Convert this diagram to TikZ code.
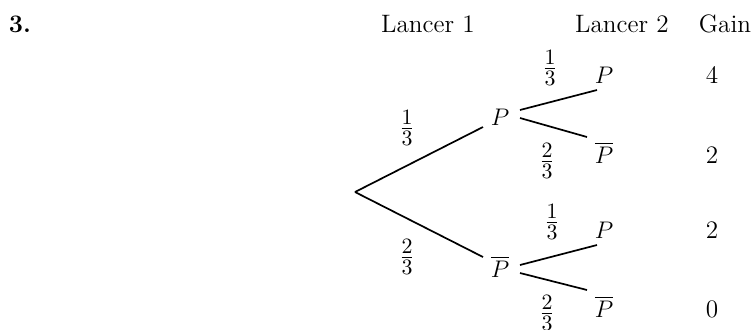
\documentclass[tikz,border=0pt]{standalone}
\begin{document}
\begin{tikzpicture}[x=0.5pt,y=-0.5pt,
  lbl/.style={font=\fontsize{12.6}{15}\selectfont,inner sep=0pt,anchor=base},
  frc/.style={font=\fontsize{15}{18}\selectfont,inner sep=0pt},
  br/.style={line width=0.85pt}]
\useasboundingbox (0,0) rectangle (751,329);
% headers
\node[lbl] (num) at (20,32) {\textbf{3.}};
\node[lbl] (h1) at (428,32) {Lancer 1};
\node[lbl] (h2) at (622,32) {Lancer 2};
\node[lbl] (h3) at (725,32) {Gain};
% tree nodes
\coordinate (R) at (355,192);
\node[lbl] (A) at (500,125) {$P$};
\node[lbl] (B) at (500,277) {$\overline{P}$};
\node[lbl] (A1) at (604,83) {$P$};
\node[lbl] (A2) at (604,163) {$\overline{P}$};
\node[lbl] (B1) at (604,238) {$P$};
\node[lbl] (B2) at (604,317) {$\overline{P}$};
% gains
\node[lbl] (g1) at (712,83) {4};
\node[lbl] (g2) at (712,163) {2};
\node[lbl] (g3) at (712,238) {2};
\node[lbl] (g4) at (712,317) {0};
% branches
\draw[br] (R) -- ([shift={(-17,2)}]A.base);
\draw[br] (R) -- ([shift={(-17,-20)}]B.base);
\draw[br] ([shift={(20,-15)}]A.base) -- ([shift={(-7,7)}]A1.base);
\draw[br] ([shift={(20,-7)}]A.base) -- ([shift={(-17,-26)}]A2.base);
\draw[br] ([shift={(20,-12)}]B.base) -- ([shift={(-7,7)}]B1.base);
\draw[br] ([shift={(20,-4)}]B.base) -- ([shift={(-17,-27)}]B2.base);
% probabilities
\node[frc] (pA) at (407,128) {$\frac{1}{3}$};
\node[frc] (pB) at (407,257) {$\frac{2}{3}$};
\node[frc] (pA1) at (550,68) {$\frac{1}{3}$};
\node[frc] (pA2) at (547,161) {$\frac{2}{3}$};
\node[frc] (pB1) at (552,222) {$\frac{1}{3}$};
\node[frc] (pB2) at (547,313) {$\frac{2}{3}$};
\end{tikzpicture}
\end{document}
